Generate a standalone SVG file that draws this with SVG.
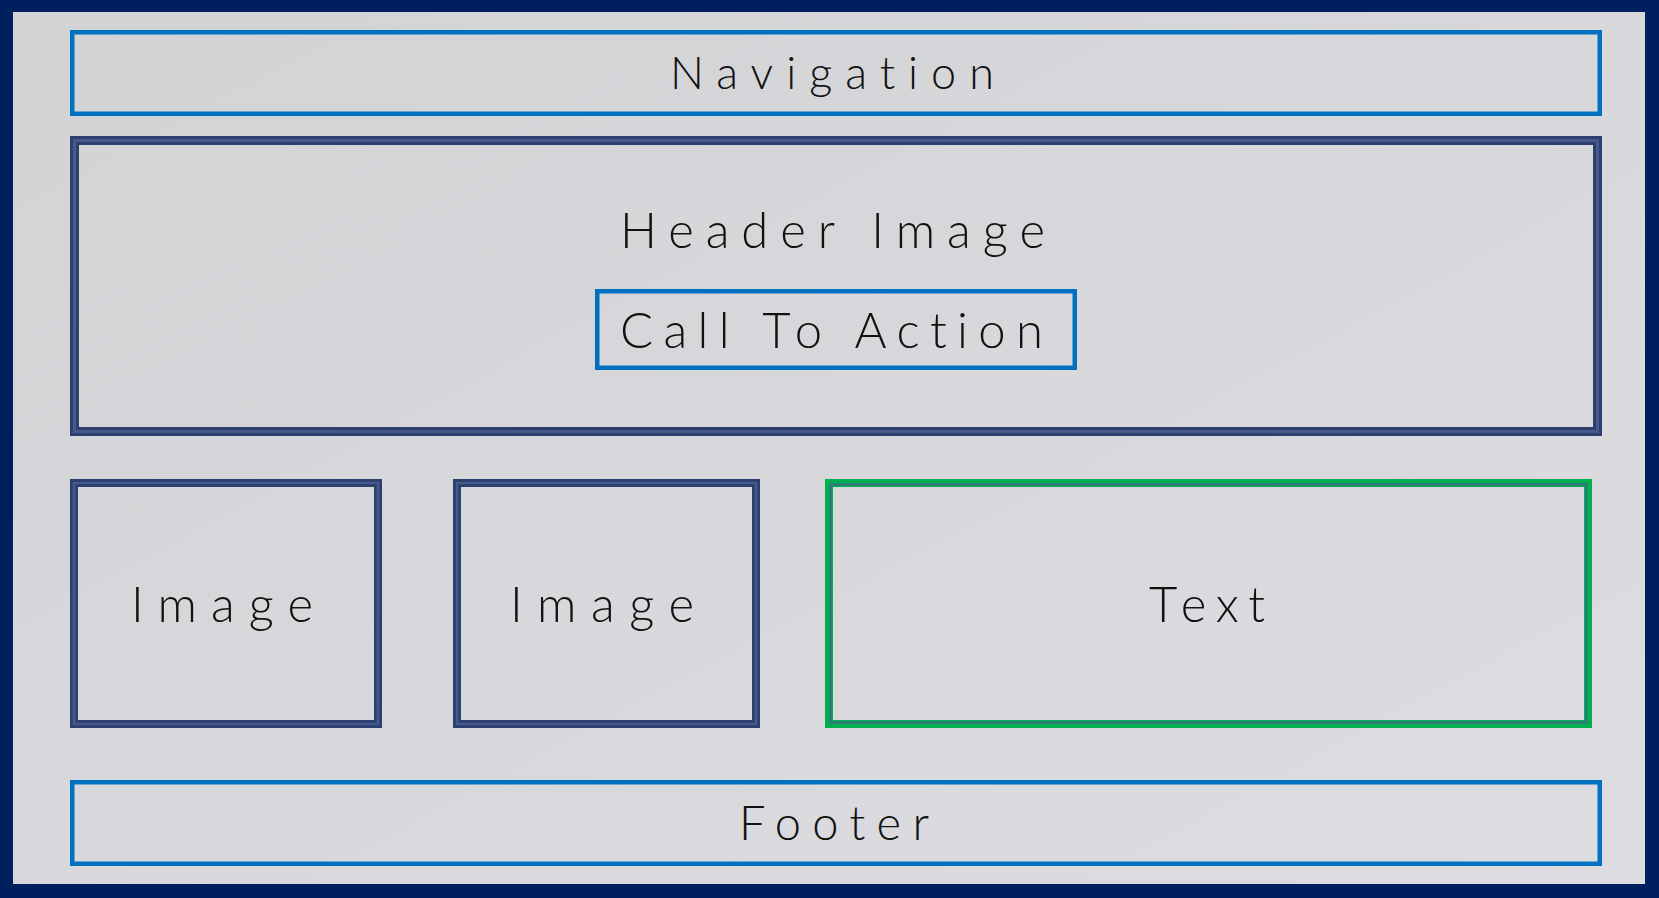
<svg xmlns="http://www.w3.org/2000/svg" width="1659" height="898" viewBox="0 0 1659 898">
<defs>
<linearGradient id="panel" x1="0" y1="0" x2="1" y2="1">
<stop offset="0" stop-color="#d2d3d5"/>
<stop offset="1" stop-color="#dddde1"/>
</linearGradient>
</defs>
<style>
.lbl{font-family:Lato,"Liberation Sans",Arial,sans-serif;fill:#111;font-weight:300;font-variant-ligatures:none;font-feature-settings:"liga" 0,"clig" 0}
.blue{fill:none;stroke:#0070c0;stroke-width:4.5}
.navy{fill:none;stroke:#2c3f6d;stroke-width:9}
.navyin{fill:none;stroke:#45598c;stroke-width:3}
.img{fill:none;stroke:#2c3f6d;stroke-width:8}
.imgin{fill:none;stroke:#45598c;stroke-width:2.5}
.green{fill:none;stroke:#00b050;stroke-width:8}
.greenin{fill:none;stroke:#3f6a88;stroke-width:2}
</style>
<rect x="0" y="0" width="1659" height="898" fill="#001f5f"/>
<rect x="13" y="12" width="1632" height="872" fill="url(#panel)"/>
<g id="navigation">
<rect class="blue" x="72.25" y="32.25" width="1527.5" height="81.5"/>
<text class="lbl" x="670" y="89" font-size="45" textLength="324" lengthAdjust="spacing">Navigation</text>
</g>
<g id="header-image">
<rect class="navy" x="74.5" y="140.5" width="1523" height="291"/>
<rect class="navyin" x="74.5" y="140.5" width="1523" height="291"/>
<text class="lbl" x="620" y="248" font-size="49" textLength="425" lengthAdjust="spacing">Header Image</text>
</g>
<g id="call-to-action">
<rect class="blue" x="597.25" y="291.25" width="477.5" height="76.5"/>
<text class="lbl" x="620" y="348" font-size="49" textLength="423" lengthAdjust="spacing">Call To Action</text>
</g>
<g id="image-1">
<rect class="img" x="74" y="483" width="304" height="241"/>
<rect class="imgin" x="74" y="483" width="304" height="241"/>
<text class="lbl" x="131" y="622" font-size="49" textLength="182" lengthAdjust="spacing">Image</text>
</g>
<g id="image-2">
<rect class="img" x="457" y="483" width="299" height="241"/>
<rect class="imgin" x="457" y="483" width="299" height="241"/>
<text class="lbl" x="510" y="622" font-size="49" textLength="184" lengthAdjust="spacing">Image</text>
</g>
<g id="text">
<rect class="green" x="829" y="483" width="759" height="241"/>
<rect class="greenin" x="830.5" y="484.5" width="756" height="238"/>
<text class="lbl" x="1149" y="622" font-size="49" textLength="116" lengthAdjust="spacing">Text</text>
</g>
<g id="footer">
<rect class="blue" x="72.25" y="782.25" width="1527.5" height="81.5"/>
<text class="lbl" x="739" y="840" font-size="47" textLength="190" lengthAdjust="spacing">Footer</text>
</g>
<g id="connectors"></g>
</svg>
